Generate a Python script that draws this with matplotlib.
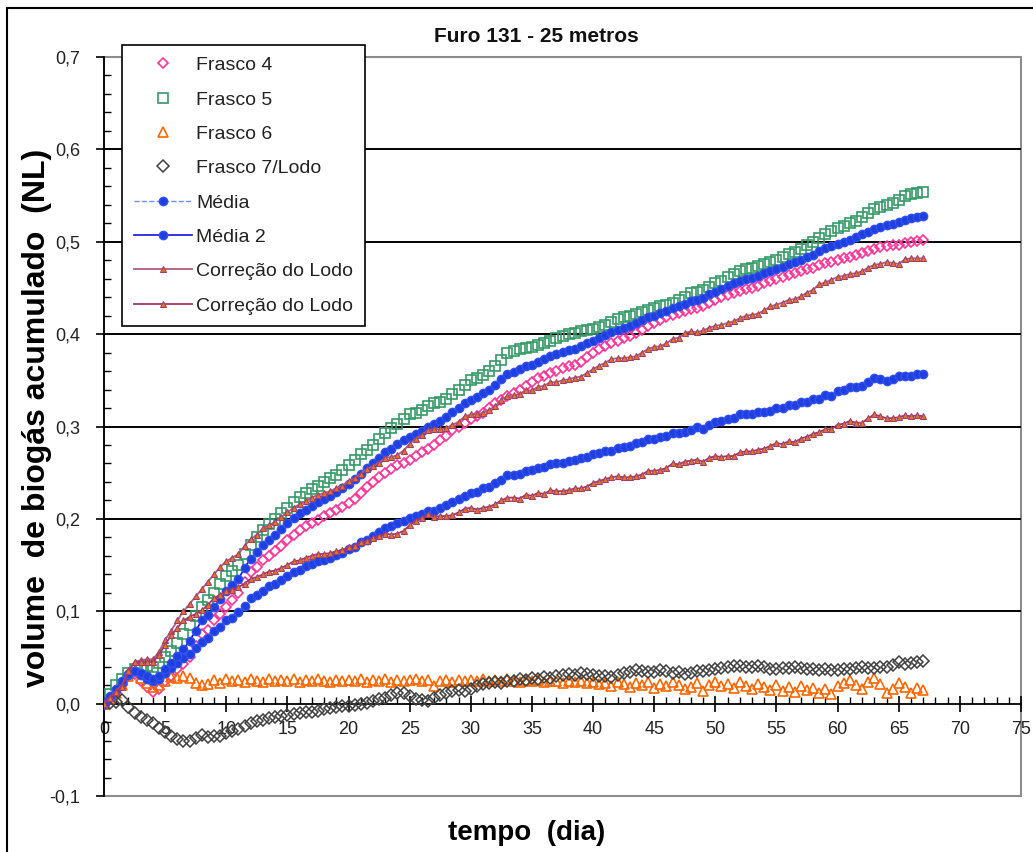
import numpy as np
import matplotlib
matplotlib.use("Agg")
import matplotlib.pyplot as plt
from matplotlib.patches import Rectangle
from matplotlib.ticker import MultipleLocator, FuncFormatter

plt.rcParams['font.family'] = ['Liberation Sans', 'DejaVu Sans']

# tempo de incubacao (dias)
dias = [0.0, 0.5, 1.0, 1.5, 2.0, 2.5, 3.0, 3.5, 4.0, 4.5,
        5.0, 5.5, 6.0, 6.5, 7.0, 7.5, 8.0, 8.5, 9.0, 9.5,
        10.0, 10.5, 11.0, 11.5, 12.0, 12.5, 13.0, 13.5, 14.0, 14.5,
        15.0, 15.5, 16.0, 16.5, 17.0, 17.5, 18.0, 18.5, 19.0, 19.5,
        20.0, 20.5, 21.0, 21.5, 22.0, 22.5, 23.0, 23.5, 24.0, 24.5,
        25.0, 25.5, 26.0, 26.5, 27.0, 27.5, 28.0, 28.5, 29.0, 29.5,
        30.0, 30.5, 31.0, 31.5, 32.0, 32.5, 33.0, 33.5, 34.0, 34.5,
        35.0, 35.5, 36.0, 36.5, 37.0, 37.5, 38.0, 38.5, 39.0, 39.5,
        40.0, 40.5, 41.0, 41.5, 42.0, 42.5, 43.0, 43.5, 44.0, 44.5,
        45.0, 45.5, 46.0, 46.5, 47.0, 47.5, 48.0, 48.5, 49.0, 49.5,
        50.0, 50.5, 51.0, 51.5, 52.0, 52.5, 53.0, 53.5, 54.0, 54.5,
        55.0, 55.5, 56.0, 56.5, 57.0, 57.5, 58.0, 58.5, 59.0, 59.5,
        60.0, 60.5, 61.0, 61.5, 62.0, 62.5, 63.0, 63.5, 64.0, 64.5,
        65.0, 65.5, 66.0, 66.5, 67.0]

frasco4 = [0.000, 0.005, 0.012, 0.020, 0.030, 0.032, 0.025, 0.018, 0.013, 0.016,
           0.025, 0.030, 0.038, 0.043, 0.050, 0.062, 0.075, 0.080, 0.090, 0.097,
           0.105, 0.112, 0.120, 0.132, 0.142, 0.148, 0.155, 0.160, 0.165, 0.171,
           0.177, 0.183, 0.188, 0.192, 0.196, 0.199, 0.203, 0.206, 0.210, 0.213,
           0.217, 0.222, 0.228, 0.234, 0.240, 0.245, 0.250, 0.254, 0.258, 0.261,
           0.264, 0.268, 0.272, 0.276, 0.280, 0.285, 0.290, 0.296, 0.300, 0.304,
           0.308, 0.311, 0.315, 0.320, 0.325, 0.329, 0.333, 0.336, 0.340, 0.344,
           0.348, 0.352, 0.355, 0.358, 0.360, 0.363, 0.365, 0.367, 0.370, 0.375,
           0.380, 0.384, 0.387, 0.390, 0.393, 0.396, 0.398, 0.401, 0.405, 0.409,
           0.412, 0.415, 0.418, 0.421, 0.423, 0.425, 0.427, 0.428, 0.430, 0.434,
           0.437, 0.440, 0.442, 0.445, 0.447, 0.449, 0.450, 0.452, 0.455, 0.458,
           0.460, 0.462, 0.464, 0.466, 0.468, 0.470, 0.472, 0.475, 0.477, 0.478,
           0.480, 0.482, 0.484, 0.486, 0.488, 0.490, 0.492, 0.494, 0.495, 0.496,
           0.497, 0.499, 0.500, 0.501, 0.502]

frasco5 = [0.000, 0.010, 0.020, 0.027, 0.033, 0.037, 0.040, 0.041, 0.040, 0.044,
           0.050, 0.057, 0.066, 0.075, 0.085, 0.095, 0.105, 0.112, 0.120, 0.129,
           0.138, 0.144, 0.150, 0.162, 0.172, 0.180, 0.188, 0.194, 0.200, 0.206,
           0.212, 0.218, 0.224, 0.228, 0.232, 0.236, 0.240, 0.244, 0.248, 0.253,
           0.258, 0.264, 0.270, 0.275, 0.280, 0.287, 0.293, 0.298, 0.303, 0.308,
           0.313, 0.315, 0.318, 0.322, 0.325, 0.327, 0.330, 0.335, 0.340, 0.345,
           0.350, 0.353, 0.356, 0.360, 0.365, 0.372, 0.380, 0.382, 0.384, 0.385,
           0.386, 0.388, 0.390, 0.393, 0.396, 0.398, 0.400, 0.401, 0.403, 0.404,
           0.406, 0.408, 0.410, 0.413, 0.416, 0.418, 0.420, 0.422, 0.424, 0.426,
           0.428, 0.430, 0.432, 0.434, 0.437, 0.440, 0.444, 0.446, 0.448, 0.451,
           0.455, 0.458, 0.462, 0.465, 0.468, 0.470, 0.472, 0.474, 0.476, 0.478,
           0.480, 0.483, 0.487, 0.489, 0.492, 0.496, 0.500, 0.504, 0.508, 0.512,
           0.515, 0.517, 0.520, 0.523, 0.527, 0.531, 0.535, 0.538, 0.540, 0.542,
           0.545, 0.549, 0.552, 0.553, 0.554]

frasco6 = [0.000, 0.005, 0.012, 0.020, 0.030, 0.035, 0.028, 0.022, 0.018, 0.020,
           0.025, 0.029, 0.028, 0.030, 0.028, 0.022, 0.020, 0.021, 0.026, 0.022,
           0.027, 0.024, 0.026, 0.023, 0.027, 0.025, 0.023, 0.027, 0.024, 0.026,
           0.025, 0.027, 0.023, 0.026, 0.024, 0.027, 0.025, 0.023, 0.026, 0.024,
           0.026, 0.024, 0.027, 0.023, 0.026, 0.025, 0.027, 0.023, 0.026, 0.024,
           0.026, 0.027, 0.024, 0.026, 0.019, 0.024, 0.026, 0.023, 0.026, 0.025,
           0.026, 0.024, 0.027, 0.025, 0.026, 0.024, 0.027, 0.025, 0.023, 0.026,
           0.024, 0.026, 0.023, 0.025, 0.024, 0.022, 0.025, 0.023, 0.024, 0.022,
           0.023, 0.021, 0.022, 0.019, 0.023, 0.021, 0.018, 0.022, 0.020, 0.023,
           0.017, 0.021, 0.019, 0.023, 0.020, 0.016, 0.018, 0.022, 0.014, 0.020,
           0.023, 0.019, 0.021, 0.017, 0.023, 0.019, 0.016, 0.021, 0.018, 0.015,
           0.020, 0.014, 0.018, 0.013, 0.019, 0.015, 0.017, 0.012, 0.016, 0.010,
           0.019, 0.022, 0.026, 0.020, 0.016, 0.023, 0.028, 0.021, 0.012, 0.016,
           0.022, 0.018, 0.012, 0.017, 0.015]

frasco7_lodo = [0.000, 0.001, 0.002, 0.004, -0.004, -0.010, -0.014, -0.018, -0.021, -0.026,
                -0.031, -0.035, -0.038, -0.041, -0.040, -0.037, -0.034, -0.036, -0.035, -0.035,
                -0.032, -0.030, -0.027, -0.024, -0.021, -0.019, -0.018, -0.016, -0.014, -0.013,
                -0.012, -0.011, -0.010, -0.009, -0.009, -0.008, -0.006, -0.005, -0.004, -0.003,
                -0.003, -0.001, 0.000, 0.001, 0.003, 0.005, 0.006, 0.009, 0.012, 0.011,
                0.008, 0.005, 0.004, 0.003, 0.006, 0.009, 0.012, 0.014, 0.015, 0.014,
                0.016, 0.019, 0.021, 0.022, 0.023, 0.022, 0.024, 0.025, 0.027, 0.026,
                0.028, 0.027, 0.029, 0.028, 0.030, 0.031, 0.032, 0.031, 0.033, 0.032,
                0.031, 0.030, 0.030, 0.029, 0.031, 0.033, 0.034, 0.036, 0.035, 0.034,
                0.034, 0.036, 0.035, 0.033, 0.034, 0.032, 0.033, 0.035, 0.035, 0.036,
                0.037, 0.039, 0.040, 0.041, 0.041, 0.040, 0.040, 0.041, 0.040, 0.038,
                0.038, 0.039, 0.039, 0.040, 0.039, 0.038, 0.038, 0.036, 0.037, 0.036,
                0.036, 0.037, 0.037, 0.039, 0.040, 0.039, 0.039, 0.040, 0.040, 0.042,
                0.045, 0.043, 0.044, 0.045, 0.046]

# media dos frascos 4, 5 e 6
media = [0.000, 0.007, 0.015, 0.022, 0.031, 0.035, 0.031, 0.027, 0.024, 0.027,
         0.033, 0.039, 0.044, 0.049, 0.054, 0.060, 0.067, 0.071, 0.079, 0.083,
         0.090, 0.093, 0.099, 0.106, 0.114, 0.118, 0.122, 0.127, 0.130, 0.134,
         0.138, 0.143, 0.145, 0.149, 0.151, 0.154, 0.156, 0.158, 0.161, 0.163,
         0.167, 0.170, 0.175, 0.177, 0.182, 0.186, 0.190, 0.192, 0.196, 0.198,
         0.201, 0.203, 0.205, 0.208, 0.208, 0.212, 0.215, 0.218, 0.222, 0.225,
         0.228, 0.229, 0.233, 0.235, 0.239, 0.242, 0.247, 0.248, 0.249, 0.252,
         0.253, 0.255, 0.256, 0.259, 0.260, 0.261, 0.263, 0.264, 0.266, 0.267,
         0.270, 0.271, 0.273, 0.274, 0.277, 0.278, 0.279, 0.282, 0.283, 0.286,
         0.286, 0.289, 0.290, 0.293, 0.293, 0.294, 0.296, 0.299, 0.297, 0.302,
         0.305, 0.306, 0.308, 0.309, 0.313, 0.313, 0.313, 0.316, 0.316, 0.317,
         0.320, 0.320, 0.323, 0.323, 0.326, 0.327, 0.330, 0.330, 0.334, 0.333,
         0.338, 0.340, 0.343, 0.343, 0.344, 0.348, 0.352, 0.351, 0.349, 0.351,
         0.355, 0.355, 0.355, 0.357, 0.357]

# media dos frascos 4 e 5
media2 = [0.000, 0.008, 0.016, 0.024, 0.032, 0.035, 0.033, 0.030, 0.027, 0.030,
          0.038, 0.044, 0.052, 0.059, 0.068, 0.079, 0.090, 0.096, 0.105, 0.113,
          0.122, 0.128, 0.135, 0.147, 0.157, 0.164, 0.172, 0.177, 0.183, 0.189,
          0.195, 0.201, 0.206, 0.210, 0.214, 0.218, 0.222, 0.225, 0.229, 0.233,
          0.238, 0.243, 0.249, 0.255, 0.260, 0.266, 0.272, 0.276, 0.281, 0.285,
          0.289, 0.292, 0.295, 0.299, 0.303, 0.306, 0.310, 0.316, 0.320, 0.325,
          0.329, 0.332, 0.336, 0.340, 0.345, 0.351, 0.357, 0.359, 0.362, 0.365,
          0.367, 0.370, 0.373, 0.376, 0.378, 0.381, 0.383, 0.384, 0.387, 0.390,
          0.393, 0.396, 0.399, 0.402, 0.405, 0.407, 0.409, 0.412, 0.415, 0.418,
          0.420, 0.423, 0.425, 0.428, 0.430, 0.433, 0.436, 0.437, 0.439, 0.443,
          0.446, 0.449, 0.452, 0.455, 0.458, 0.460, 0.461, 0.463, 0.466, 0.468,
          0.470, 0.473, 0.476, 0.478, 0.480, 0.483, 0.486, 0.490, 0.493, 0.495,
          0.498, 0.500, 0.502, 0.505, 0.508, 0.511, 0.514, 0.516, 0.518, 0.519,
          0.521, 0.524, 0.526, 0.527, 0.528]

# media 2 descontado o lodo
correcao_media2 = [0.000, 0.007, 0.014, 0.020, 0.036, 0.045, 0.047, 0.048, 0.048, 0.056,
                   0.069, 0.079, 0.090, 0.100, 0.108, 0.116, 0.124, 0.132, 0.140, 0.148,
                   0.154, 0.158, 0.162, 0.171, 0.178, 0.183, 0.190, 0.193, 0.197, 0.202,
                   0.207, 0.212, 0.216, 0.219, 0.223, 0.226, 0.228, 0.230, 0.233, 0.236,
                   0.241, 0.244, 0.249, 0.254, 0.257, 0.261, 0.266, 0.267, 0.269, 0.274,
                   0.281, 0.287, 0.291, 0.296, 0.297, 0.297, 0.298, 0.302, 0.305, 0.311,
                   0.313, 0.313, 0.315, 0.318, 0.322, 0.329, 0.333, 0.334, 0.335, 0.339,
                   0.339, 0.343, 0.344, 0.348, 0.348, 0.350, 0.351, 0.353, 0.354, 0.358,
                   0.362, 0.366, 0.369, 0.373, 0.374, 0.374, 0.375, 0.376, 0.380, 0.384,
                   0.386, 0.387, 0.390, 0.395, 0.396, 0.401, 0.403, 0.402, 0.404, 0.407,
                   0.409, 0.410, 0.412, 0.414, 0.417, 0.420, 0.421, 0.422, 0.426, 0.430,
                   0.432, 0.434, 0.437, 0.438, 0.441, 0.445, 0.448, 0.454, 0.456, 0.459,
                   0.462, 0.463, 0.465, 0.466, 0.468, 0.472, 0.475, 0.476, 0.478, 0.477,
                   0.476, 0.481, 0.482, 0.482, 0.482]

# media descontado o lodo
correcao_media = [0.000, 0.006, 0.013, 0.018, 0.035, 0.045, 0.045, 0.045, 0.045, 0.053,
                  0.064, 0.074, 0.082, 0.090, 0.094, 0.097, 0.101, 0.107, 0.114, 0.118,
                  0.122, 0.123, 0.126, 0.130, 0.135, 0.137, 0.140, 0.143, 0.144, 0.147,
                  0.150, 0.154, 0.155, 0.158, 0.160, 0.162, 0.162, 0.163, 0.165, 0.166,
                  0.170, 0.171, 0.175, 0.176, 0.179, 0.181, 0.184, 0.183, 0.184, 0.187,
                  0.193, 0.198, 0.201, 0.205, 0.202, 0.203, 0.203, 0.204, 0.207, 0.211,
                  0.212, 0.210, 0.212, 0.213, 0.216, 0.220, 0.223, 0.223, 0.222, 0.226,
                  0.225, 0.228, 0.227, 0.231, 0.230, 0.230, 0.231, 0.233, 0.233, 0.235,
                  0.239, 0.241, 0.243, 0.245, 0.246, 0.245, 0.245, 0.246, 0.248, 0.252,
                  0.252, 0.253, 0.255, 0.260, 0.259, 0.262, 0.263, 0.264, 0.262, 0.266,
                  0.268, 0.267, 0.268, 0.268, 0.272, 0.273, 0.273, 0.275, 0.276, 0.279,
                  0.282, 0.281, 0.284, 0.283, 0.287, 0.289, 0.292, 0.294, 0.297, 0.297,
                  0.302, 0.303, 0.306, 0.304, 0.304, 0.309, 0.313, 0.311, 0.309, 0.309,
                  0.310, 0.312, 0.311, 0.312, 0.311]


fig = plt.figure(figsize=(10.33, 8.52), dpi=100)
ax = fig.add_axes([104 / 1033, 1 - 796 / 852, 917 / 1033, 739 / 852])

# pontos dos frascos (sem linha)
ax.plot(dias, frasco4, ls='none', marker='D', ms=5.5, mfc='none', mec='#FF3399',
        mew=1.2, label='Frasco 4', zorder=3)
ax.plot(dias, frasco5, ls='none', marker='s', ms=6.5, mfc='none', mec='#339966',
        mew=1.2, label='Frasco 5', zorder=3)
ax.plot(dias, frasco6, ls='none', marker='^', ms=7, mfc='none', mec='#FF6600',
        mew=1.2, label='Frasco 6', zorder=3)
ax.plot(dias, frasco7_lodo, ls='none', marker='D', ms=6, mfc='none', mec='#404040',
        mew=1.1, label='Frasco 7/Lodo', zorder=3)

# medias e correcoes
ax.plot(dias, media, ls='--', lw=1.0, color='#6F8CFF', marker='o', ms=6,
        mfc='#1F3FE0', mec='#3050F0', label='Média', zorder=4)
ax.plot(dias, media2, ls='-', lw=1.2, color='#1010E0', marker='o', ms=6,
        mfc='#1F3FE0', mec='#3050F0', label='Média 2', zorder=4)
ax.plot(dias, correcao_media2, ls='-', lw=1.3, color='#B05C86', marker='^', ms=5,
        mfc='#E8731E', mec='#A0406A', mew=0.8, label='Correção do Lodo', zorder=4)
ax.plot(dias, correcao_media, ls='-', lw=1.3, color='#A8336A', marker='^', ms=5,
        mfc='#E8731E', mec='#A0406A', mew=0.8, label='Correção do Lodo', zorder=4)

ax.set_xlim(0, 75)
ax.set_ylim(-0.1, 0.7)

# eixo x passando pelo zero
ax.spines['bottom'].set_position(('data', 0))
ax.spines['bottom'].set_color('black')
ax.spines['bottom'].set_linewidth(1.3)
ax.spines['left'].set_color('black')
ax.spines['left'].set_linewidth(1.3)
ax.spines['top'].set_visible(False)
ax.spines['right'].set_visible(False)
ax.add_patch(Rectangle((0, 0), 1, 1, transform=ax.transAxes, fill=False,
                       edgecolor='#8C8C8C', lw=1.5, clip_on=False, zorder=0.5))

ax.xaxis.set_major_locator(MultipleLocator(5))
ax.xaxis.set_minor_locator(MultipleLocator(1))
ax.yaxis.set_major_locator(MultipleLocator(0.1))
ax.yaxis.set_minor_locator(MultipleLocator(0.02))
ax.yaxis.set_major_formatter(FuncFormatter(lambda v, p: f"{v:.1f}".replace('.', ',')))
ax.xaxis.set_major_formatter(FuncFormatter(lambda v, p: f"{v:.0f}"))

ax.tick_params(axis='x', which='major', direction='inout', length=11, width=1.2,
               pad=7, labelsize=13, labelcolor='#222222')
ax.tick_params(axis='x', which='minor', direction='in', length=5, width=1.0)
ax.tick_params(axis='y', which='major', direction='out', length=6, width=1.2,
               pad=11, labelsize=13, labelcolor='#222222')
ax.tick_params(axis='y', which='minor', direction='in', length=5, width=1.0)

ax.yaxis.grid(True, which='major', color='black', lw=1.4, zorder=1)
ax.set_axisbelow(True)
fig.canvas.draw()
for gl, val in zip(ax.yaxis.get_gridlines(), ax.get_yticks()):
    if val < 0.05 or val > 0.65:
        gl.set_visible(False)

leg = ax.legend(loc='upper left', bbox_to_anchor=(122 / 1033, 1 - 45 / 852),
                bbox_transform=fig.transFigure, borderaxespad=0, fontsize=14,
                frameon=True, fancybox=False, edgecolor='black', framealpha=1,
                labelspacing=0.86, handlelength=3.0, handletextpad=0.2,
                borderpad=0.6, numpoints=1)
leg.get_frame().set_linewidth(1.2)
for t in leg.get_texts():
    t.set_color('#222222')

fig.text(536 / 1033, 1 - 36 / 852, 'Furo 131 - 25 metros', ha='center', va='center',
         fontsize=15, fontweight='bold', color='#111111')
fig.text(527 / 1033, 1 - 833 / 852, 'tempo  (dia)', ha='center', va='center',
         fontsize=20, fontweight='bold')
fig.text(37 / 1033, 1 - 418 / 852, 'volume  de biogás acumulado  (NL)', ha='center',
         va='center', rotation=90, fontsize=23, fontweight='bold')

# moldura da figura
fig.add_artist(Rectangle((7 / 1033, -0.2), 2, 1.2 - 8 / 852, transform=fig.transFigure,
                         fill=False, edgecolor='black', lw=1.5))

fig.savefig('out.png', dpi=100)
